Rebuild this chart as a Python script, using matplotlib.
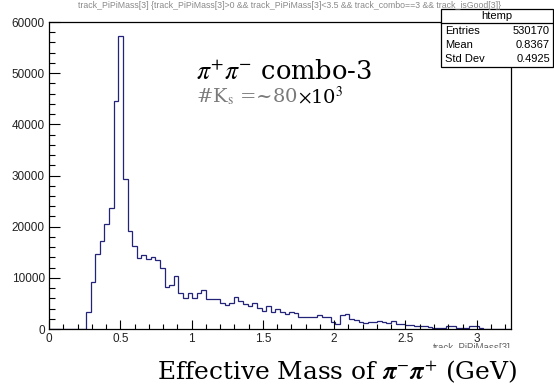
import numpy as np
import matplotlib
matplotlib.use("Agg")
import matplotlib.pyplot as plt
from matplotlib.patches import Rectangle
from matplotlib.ticker import MultipleLocator

plt.rcParams['mathtext.fontset'] = 'stix'

# pi+ pi- invariant mass, 100 bins from 0 to 3.24 GeV
n_bins = 100
mass_lo, mass_hi = 0.0, 3.24
counts = [
    0, 0, 0, 0, 0, 0, 0, 0, 3400, 9200,
    14700, 17250, 20600, 23700, 44500, 57200, 29400, 19100, 16300, 13900,
    14400, 13700, 14000, 13500, 12000, 8200, 8600, 10300, 7000, 6000,
    7000, 6100, 7000, 7650, 5800, 5800, 5800, 5150, 4650, 5150,
    6300, 5550, 4900, 4400, 5000, 4050, 3600, 4400, 3400, 4000,
    3400, 2900, 3400, 3050, 2400, 2400, 2400, 2400, 2800, 2300,
    2300, 1400, 900, 2700, 3000, 2000, 1800, 1400, 1200, 1300,
    1300, 1500, 1300, 1200, 1600, 900, 900, 700, 700, 500,
    500, 500, 300, 200, 100, 200, 500, 500, 200, 100,
    100, 500, 500, 100, 0, 0, 0, 0, 0, 0,
]

x_ticks = [0, 0.5, 1, 1.5, 2, 2.5, 3]
x_ticklabels = ["0", "0.5", "1", "1.5", "2", "2.5", "3"]
y_ticks = [0, 10000, 20000, 30000, 40000, 50000, 60000]

stat_names = ["Entries", "Mean", "Std Dev"]
stat_values = ["530170", "0.8367", "0.4925"]

W, H = 554, 391


def fx(px):
    return px / W


def fy(py):
    return 1 - py / H


fig = plt.figure(figsize=(W / 100, H / 100), dpi=100)
ax = fig.add_axes([fx(49), fy(329), (511 - 49) / W, (329 - 22) / H])

edges = np.linspace(mass_lo, mass_hi, n_bins + 1)
ax.stairs(counts, edges, color='#23237a', lw=0.9)

ax.set_xlim(mass_lo, mass_hi)
ax.set_ylim(0, 60000)
ax.set_xticks(x_ticks)
ax.set_xticklabels(x_ticklabels)
ax.set_yticks(y_ticks)
ax.xaxis.set_minor_locator(MultipleLocator(0.1))
ax.yaxis.set_minor_locator(MultipleLocator(2000))
ax.tick_params(axis='x', which='major', direction='in', length=6.5, width=0.8, pad=3)
ax.tick_params(axis='x', which='minor', direction='in', length=3.3, width=0.8)
ax.tick_params(axis='y', which='major', direction='in', length=8, width=0.8, pad=3)
ax.tick_params(axis='y', which='minor', direction='in', length=4.3, width=0.8)
ax.tick_params(labelsize=8.5, labelcolor='#222222')
for lab in ax.get_xticklabels() + ax.get_yticklabels():
    lab.set_family('Liberation Sans')
for sp in ax.spines.values():
    sp.set_linewidth(0.9)
    sp.set_color('black')

# ROOT draw title and axis title
fig.text(fx(290), fy(5), "track_PiPiMass[3] {track_PiPiMass[3]>0 && track_PiPiMass[3]<3.5 && track_combo==3 && track_isGood[3]}",
         ha='center', va='center', fontsize=6.3, color='#8a8a8a', family='Liberation Sans')
fig.text(fx(511), fy(348), "track_PiPiMass[3]", ha='right', va='center',
         fontsize=7, color='#666666', family='Liberation Sans', zorder=2)

# stats box
box = Rectangle((fx(441), fy(67)), fx(553) - fx(441), fy(9) - fy(67),
                transform=fig.transFigure, facecolor='white', edgecolor='black', lw=0.9, zorder=3)
fig.add_artist(box)
fig.add_artist(plt.Line2D([fx(441), fx(553)], [fy(23), fy(23)], transform=fig.transFigure,
                          color='black', lw=0.9, zorder=4))
fig.text(fx(497), fy(16), "htemp", ha='center', va='center', fontsize=8,
         family='Liberation Sans', zorder=5)
for i, (name, val) in enumerate(zip(stat_names, stat_values)):
    yy = fy(31 + i * 14)
    fig.text(fx(445), yy, name, ha='left', va='center', fontsize=8,
             family='Liberation Sans', zorder=5)
    fig.text(fx(550), yy, val, ha='right', va='center', fontsize=8,
             family='Liberation Sans', zorder=5)

# annotation inside the frame
fig.text(fx(196), fy(72), r'$\pi^{+}\pi^{-}$ combo-3', ha='left', va='center',
         fontsize=18.5, family='DejaVu Serif', color='black')
ks = fig.text(fx(196), fy(97), r'#K$_{\mathrm{s}}$ =~80', ha='left', va='center',
              fontsize=14, family='DejaVu Serif', color='#7a7a7a')
fig.canvas.draw()
ks_box = ks.get_window_extent().transformed(fig.transFigure.inverted())
fig.text(ks_box.x1, fy(97), r'$\times$10$^{3}$', ha='left', va='center',
         fontsize=14, family='DejaVu Serif', color='black')

# big x label on a white strip
fig.add_artist(Rectangle((fx(140), 0), 1 - fx(140), fy(348), transform=fig.transFigure,
                         facecolor='white', edgecolor='none', zorder=6))
fig.text(fx(157), fy(372), r'Effective Mass of $\boldsymbol{\pi}^{-}\boldsymbol{\pi}^{+}$ (GeV)',
         ha='left', va='center', fontsize=17.9, family='DejaVu Serif', color='black', zorder=7)

fig.savefig('out.png', dpi=100)
